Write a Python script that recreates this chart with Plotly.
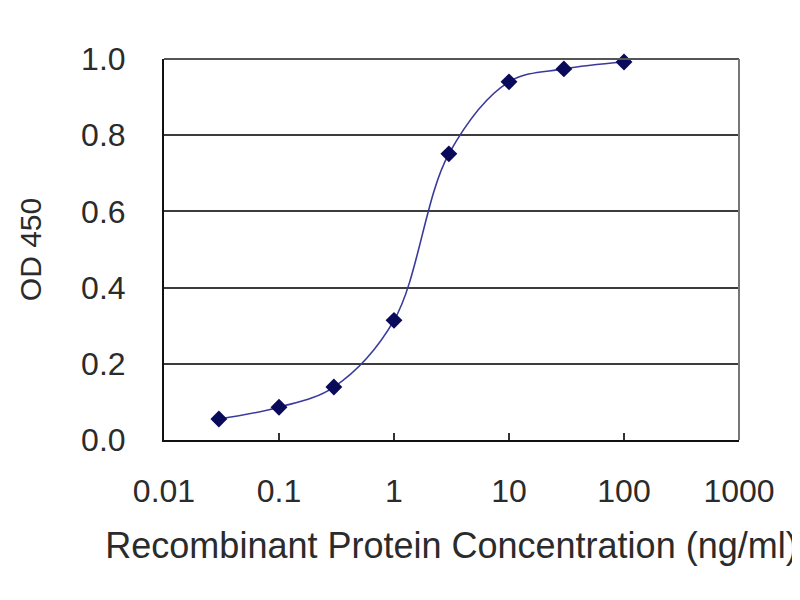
import plotly.graph_objects as go

# valores
concentracao = [0.03, 0.1, 0.3, 1, 3, 10, 30, 100]
od450 = [0.055, 0.086, 0.139, 0.314, 0.751, 0.940, 0.974, 0.992]

x_ticks = [0.01, 0.1, 1, 10, 100, 1000]
x_ticktext = ['0.01', '0.1', '1', '10', '100', '1000']
y_ticks = [0.0, 0.2, 0.4, 0.6, 0.8, 1.0]

fonte = dict(family='Liberation Sans, Arial', size=32, color='#2b2b2b')

fig = go.Figure()

fig.add_trace(go.Scatter(
    x=concentracao,
    y=od450,
    mode='lines+markers',
    line=dict(color='#3a3a9c', width=1.6, shape='spline', smoothing=1.0),
    marker=dict(symbol='diamond', size=13, color='#0a0a5a'),
    cliponaxis=False,
    showlegend=False
))

# a página tem 8px de margem no body, compensado nas margens
fig.update_layout(
    width=800,
    height=600,
    margin=dict(l=156, r=69, t=51, b=168),
    paper_bgcolor='white',
    plot_bgcolor='white',
    font=fonte,
    xaxis=dict(
        type='log',
        range=[-2, 3],
        tickvals=x_ticks,
        ticktext=x_ticktext,
        ticks='inside',
        ticklen=7,
        tickwidth=2,
        tickcolor='#333333',
        showgrid=False,
        showline=True,
        linecolor='#111111',
        linewidth=2,
        ticklabelstandoff=22,
        title=dict(text='Recombinant Protein Concentration (ng/ml)',
                   font=dict(size=36), standoff=24),
        zeroline=False,
    ),
    yaxis=dict(
        range=[0, 1],
        tickvals=y_ticks,
        tickformat='.1f',
        ticks='',
        showgrid=True,
        gridcolor='#3c3c3c',
        gridwidth=2,
        showline=True,
        linecolor='#111111',
        linewidth=2,
        ticklabelstandoff=30,
        title=dict(text='OD 450', font=dict(size=30), standoff=31),
        zeroline=False,
    ),
    shapes=[
        dict(type='line', xref='paper', yref='paper', x0=0, x1=1, y0=1, y1=1,
             line=dict(color='#555555', width=2)),
        dict(type='line', xref='paper', yref='paper', x0=1, x1=1, y0=0, y1=1,
             line=dict(color='#777777', width=2)),
    ],
)

fig.write_html('out.html')
